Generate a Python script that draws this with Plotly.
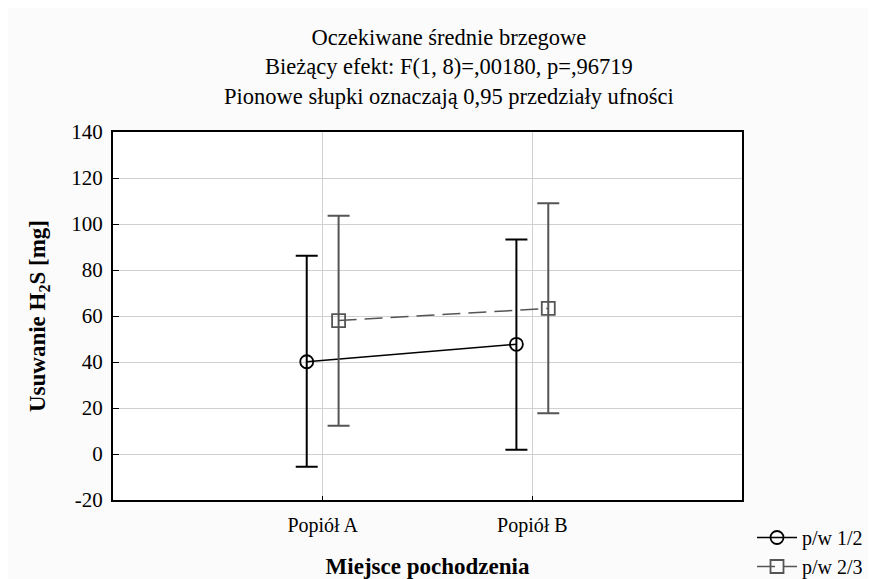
import plotly.graph_objects as go

categories = ["Popiół A", "Popiół B"]
series_names = ["p/w 1/2", "p/w 2/3"]
means_1 = [40.1, 47.7]
lower_1 = [-5.5, 1.9]
upper_1 = [86.2, 93.3]
means_2 = [58.0, 63.3]
lower_2 = [12.3, 17.7]
upper_2 = [103.6, 109.0]
y_ticks = [-20, 0, 20, 40, 60, 80, 100, 120, 140]
y_tick_text = ["-20", "0", "20", "40", "60", "80", "100", "120", "140"]

FONT = "Liberation Serif"
W, H = 868, 571          # page body has an 8px default margin
PL, PR, PT, PB = 105, 134, 124, 79
xpos = list(range(len(categories)))
off = 0.076

fig = go.Figure()

def add_series(means, lo, hi, name, color, dash, symbol, shift, width):
    xs = [x + shift for x in xpos]
    fig.add_trace(go.Scatter(
        x=xs, y=means, name=name, mode="lines+markers",
        line=dict(color=color, width=width, dash=dash),
        marker=dict(symbol=symbol, size=13, color="rgba(255,255,255,0)",
                    line=dict(color=color, width=1.8)),
        error_y=dict(type="data", symmetric=False,
                     array=[h - m for h, m in zip(hi, means)],
                     arrayminus=[m - l for m, l in zip(means, lo)],
                     color=color, thickness=2, width=11),
    ))

add_series(means_1, lower_1, upper_1, series_names[0], "black", "solid", "circle", -off, 1.5)
add_series(means_2, lower_2, upper_2, series_names[1], "#555555", "18px,8px", "square", off, 1.5)

fig.update_layout(
    width=W, height=H,
    paper_bgcolor="#fbfbfb", plot_bgcolor="white",
    margin=dict(l=PL, r=PR, t=PT, b=PB, autoexpand=False),
    font=dict(family=FONT, size=16, color="black"),
    showlegend=True,
    legend=dict(xref="container", yref="container", x=744 / W, y=1 - 510 / H,
                xanchor="left", yanchor="top",
                font=dict(family=FONT, size=20), bgcolor="rgba(0,0,0,0)",
                tracegroupgap=0, itemwidth=40),
    xaxis=dict(range=[-1, 2], tickmode="array", tickvals=xpos, ticktext=categories,
               showgrid=True, gridcolor="#d0d0d0", gridwidth=1,
               showline=True, linecolor="black", linewidth=2, mirror=True,
               ticks="inside", ticklen=4, tickcolor="black", zeroline=False,
               automargin=False, ticklabelstandoff=6,
               tickfont=dict(family=FONT, size=20),
               title=dict(text="<b>Miejsce pochodzenia</b>", font=dict(family=FONT, size=23), standoff=24)),
    yaxis=dict(range=[-20, 140], tickmode="array", tickvals=y_ticks, ticktext=y_tick_text,
               showgrid=True, gridcolor="#d0d0d0", gridwidth=1,
               showline=True, linecolor="black", linewidth=2, mirror=True,
               ticks="inside", ticklen=6, tickcolor="black", zeroline=False,
               automargin=False, ticklabelstandoff=4,
               tickfont=dict(family=FONT, size=21),
               title=dict(text="<b>Usuwanie H<sub>2</sub>S [mg]</b>", font=dict(family=FONT, size=23), standoff=19)),
    annotations=[
        dict(text="Oczekiwane średnie brzegowe<br>Bieżący efekt: F(1, 8)=,00180, p=,96719<br>Pionowe słupki oznaczają 0,95 przedziały ufności",
             xref="paper", yref="paper", x=(441 - PL) / 629, y=1.0, yshift=21,
             xanchor="center", yanchor="bottom", showarrow=False,
             font=dict(family=FONT, size=22.5), align="center"),
    ],
)

fig.write_html("out.html")
